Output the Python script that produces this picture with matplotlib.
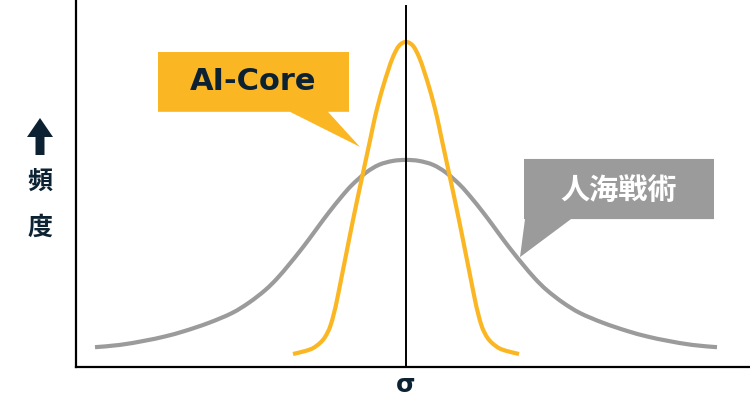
import matplotlib
matplotlib.use('Agg')
import matplotlib.pyplot as plt
from matplotlib.patches import Polygon, PathPatch
from matplotlib.path import Path

plt.rcParams['font.family'] = ['DejaVu Sans', 'Noto Sans CJK JP']

# 人海戦術 (wide curve)
wide_x = [-6.22, -5.72, -5.22, -4.82, -4.42, -3.94, -3.48, -3.14, -2.82, -2.58,
          -2.34, -2.14, -1.94, -1.74, -1.54, -1.30, -1.08, -0.80, -0.54, -0.26,
          0.0, 0.26, 0.54, 0.80, 1.08, 1.30, 1.54, 1.74, 1.94, 2.14,
          2.34, 2.58, 2.82, 3.14, 3.48, 3.94, 4.42, 4.82, 5.22, 5.72, 6.22]
wide_y = [0.061, 0.068, 0.081, 0.094, 0.111, 0.136, 0.166, 0.198, 0.236, 0.272,
          0.315, 0.353, 0.393, 0.435, 0.476, 0.522, 0.560, 0.598, 0.622, 0.634,
          0.637, 0.634, 0.622, 0.598, 0.560, 0.522, 0.476, 0.435, 0.393, 0.353,
          0.315, 0.272, 0.236, 0.198, 0.166, 0.136, 0.111, 0.094, 0.081, 0.068, 0.061]

# AI-Core (narrow curve)
core_x = [-2.26, -2.02, -1.86, -1.72, -1.62, -1.52, -1.44, -1.38, -1.28, -1.18,
          -1.08, -0.98, -0.86, -0.78, -0.70, -0.62, -0.54, -0.46, -0.36, -0.26,
          -0.14, 0.0, 0.14, 0.26, 0.36, 0.46, 0.54, 0.62, 0.70, 0.78,
          0.86, 0.98, 1.08, 1.18, 1.28, 1.38, 1.44, 1.52, 1.62, 1.72, 1.86, 2.02, 2.26]
core_y = [0.040, 0.049, 0.058, 0.074, 0.092, 0.123, 0.166, 0.206, 0.283, 0.360,
          0.437, 0.511, 0.597, 0.654, 0.711, 0.769, 0.818, 0.862, 0.911, 0.954,
          0.988, 1.000, 0.988, 0.954, 0.911, 0.862, 0.818, 0.769, 0.711, 0.654,
          0.597, 0.511, 0.437, 0.360, 0.283, 0.206, 0.166, 0.123, 0.092, 0.074, 0.058, 0.049, 0.040]

labels = ['AI-Core', '人海戦術']
y_label = ['頻', '度']
x_label = 'σ'

yellow = '#fbb723'
gray = '#9b9b9b'
navy = '#0c2233'

W, H = 750, 400


def smooth_path(xs, ys):
    # Catmull-Rom through the read points, drawn as cubic Bezier segments
    pts = list(zip(xs, ys))
    verts = [pts[0]]
    codes = [Path.MOVETO]
    n = len(pts)
    for i in range(n - 1):
        p0 = pts[max(i - 1, 0)]
        p1 = pts[i]
        p2 = pts[i + 1]
        p3 = pts[min(i + 2, n - 1)]
        c1 = (p1[0] + (p2[0] - p0[0]) / 6, p1[1] + (p2[1] - p0[1]) / 6)
        c2 = (p2[0] - (p3[0] - p1[0]) / 6, p2[1] - (p3[1] - p1[1]) / 6)
        verts += [c1, c2, p2]
        codes += [Path.CURVE4] * 3
    return Path(verts, codes)


fig = plt.figure(figsize=(7.5, 4), dpi=100)
ax = fig.add_axes([76 / W, 33 / H, 1 - 76 / W, 1 - 33 / H])
ax.set_xlim(-6.6, 6.88)
ax.set_ylim(0, 1.129)

for s in ['top', 'right']:
    ax.spines[s].set_visible(False)
for s in ['left', 'bottom']:
    ax.spines[s].set_linewidth(1.6)
    ax.spines[s].set_color('black')
ax.set_xticks([])
ax.set_yticks([])

ax.vlines(0, 0, 1.114, color='black', lw=1.4, zorder=4)

# callouts
box1 = Polygon([(-4.96, 0.969), (-1.14, 0.969), (-1.14, 0.785), (-1.56, 0.785),
                (-0.92, 0.677), (-2.32, 0.785), (-4.96, 0.785)],
               closed=True, fc=yellow, ec='none', zorder=1)
box2 = Polygon([(2.36, 0.640), (6.16, 0.640), (6.16, 0.455), (3.30, 0.455),
                (2.28, 0.338), (2.38, 0.455), (2.36, 0.455)],
               closed=True, fc=gray, ec='none', zorder=1)
ax.add_patch(box1)
ax.add_patch(box2)
ax.text(-3.05, 0.877, labels[0], ha='center', va='center', fontsize=22,
        fontweight='bold', color=navy, zorder=5)
ax.text(4.26, 0.545, labels[1], ha='center', va='center', fontsize=21,
        fontweight='bold', color='white', family=['Noto Sans CJK JP'], zorder=5)

ax.add_patch(PathPatch(smooth_path(wide_x, wide_y), fc='none', ec=gray,
                       lw=3.0, capstyle='butt', joinstyle='round', zorder=2))
ax.add_patch(PathPatch(smooth_path(core_x, core_y), fc='none', ec=yellow,
                       lw=3.0, capstyle='butt', joinstyle='round', zorder=3))


def px(x, y):
    return (x / W, 1 - y / H)


arrow = Polygon([px(40, 118), px(53, 137), px(44.5, 137), px(44.5, 155),
                 px(35.5, 155), px(35.5, 137), px(27, 137)],
                closed=True, fc=navy, ec='none', transform=fig.transFigure)
fig.patches.append(arrow)
fig.text(*px(40, 182), y_label[0], ha='center', va='center', fontsize=18,
         fontweight='bold', color=navy, family=['Noto Sans CJK JP'])
fig.text(*px(40, 228), y_label[1], ha='center', va='center', fontsize=18,
         fontweight='bold', color=navy, family=['Noto Sans CJK JP'])
fig.text(*px(406, 385), x_label, ha='center', va='center', fontsize=18,
         fontweight='bold', color=navy)

fig.savefig('out.png', dpi=100)
